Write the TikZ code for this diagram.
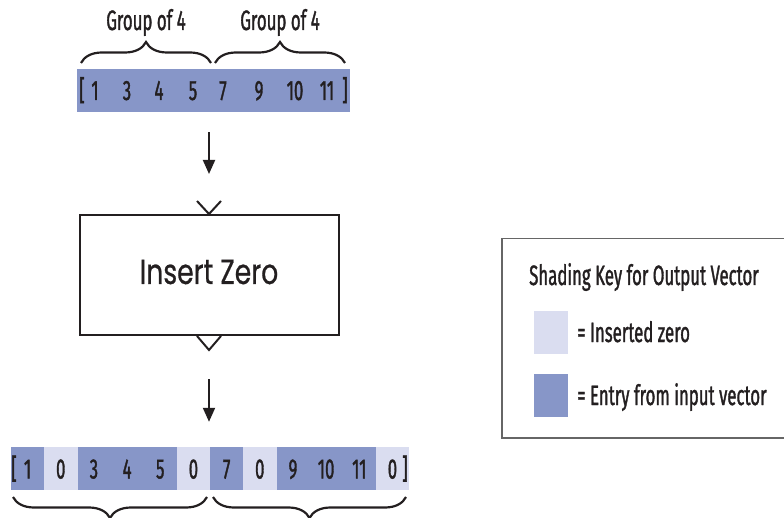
\documentclass[tikz,border=0pt]{standalone}
\usepackage{fontspec}
\setmainfont{Fira Sans}
\newfontfamily\condf[FakeStretch=0.6,FakeBold=1.2]{Fira Sans}
\newfontfamily\geof[FakeStretch=0.76,FakeBold=0.6]{Poppins}
\usetikzlibrary{decorations.pathreplacing,arrows.meta}
\definecolor{darkcell}{HTML}{8796C8}
\definecolor{lightcell}{HTML}{DADDF0}
\definecolor{ink}{HTML}{231F20}
\definecolor{keyline}{HTML}{666666}
\begin{document}
\begin{tikzpicture}[x=1pt,y=-1pt,
  lbl/.style={font=\condf\fontsize{28}{30}\selectfont, text=ink, inner sep=0pt, anchor=base},
  lblw/.style={lbl, anchor=base west},
  cell/.style={minimum width=33.17pt, minimum height=43pt, inner sep=0pt, draw=none, anchor=north west},
  dk/.style={cell, fill=darkcell},
  lt/.style={cell, fill=lightcell},
  bracestyle/.style={draw=ink, line width=2.2pt, decorate, decoration={brace, amplitude=21pt}},
  flow/.style={draw=ink, line width=2pt, -{Triangle[length=14pt,width=12pt]}},
  port/.style={draw=ink, line width=2pt},
]
\useasboundingbox (0,0) rectangle (784,518);

% input vector
\node[fill=darkcell, minimum width=273pt, minimum height=43pt, inner sep=0pt] (inbar) at (213.5,90.5) {};
\node[lbl] (ib) at (82,100) {[};
\node[lbl] (i1) at (95,100) {1};
\node[lbl] (i3) at (127,100) {3};
\node[lbl] (i4) at (159,100) {4};
\node[lbl] (i5) at (193,100) {5};
\node[lbl] (i7) at (223,100) {7};
\node[lbl] (i9) at (259,100) {9};
\node[lbl] (i10) at (295,100) {10};
\node[lbl] (i11) at (327,100) {11};
\node[lbl] (ie) at (345,100) {]};

% top braces
\coordinate (tb1s) at (81,63);
\coordinate (tb1e) at (211,63);
\coordinate (tb2s) at (215,63);
\coordinate (tb2e) at (345,63);
\draw[bracestyle] (tb1s) -- (tb1e);
\draw[bracestyle] (tb2s) -- (tb2e);
\node[lbl] (g1) at (146,30) {Group of 4};
\node[lbl] (g2) at (280,30) {Group of 4};

% block
\node[draw=ink, line width=2pt, minimum width=259pt, minimum height=120pt, inner sep=0pt] (box) at (209,275) {};
\node[font=\geof\fontsize{35}{38}\selectfont, text=ink, inner sep=0pt, anchor=base] (boxtxt) at (209,284) {Insert Zero};
\draw[port] ([xshift=-12pt,yshift=13pt]box.north) -- (box.north) -- ([xshift=12pt,yshift=13pt]box.north);
\draw[port] ([xshift=-12pt]box.south) -- ([yshift=-14pt]box.south) -- ([xshift=12pt]box.south);

% output vector
\node[minimum width=398pt, minimum height=43pt, inner sep=0pt] (outbar) at (210,468.5) {};
\foreach \i/\s in {0/dk,1/lt,2/dk,3/dk,4/dk,5/lt,6/dk,7/lt,8/dk,9/dk,10/dk,11/lt}{
  \node[\s] (c\i) at ({11+33.17*\i},447) {};
}
\foreach \i/\t in {0/1,1/0,2/3,3/4,4/5,5/0,6/7,7/0,8/9,9/10,10/11,11/0}{
  \node[lbl] (o\i) at ({11+33.17*(\i+0.5)},478.5) {\t};
}
\node[lbl] (ob) at (14,478.5) {[};
\node[lbl] (oe) at (405,478.5) {]};

% bottom braces
\coordinate (bb1s) at (207,497);
\coordinate (bb1e) at (13,497);
\coordinate (bb2s) at (406,497);
\coordinate (bb2e) at (213,497);
\draw[bracestyle] (bb1s) -- (bb1e);
\draw[bracestyle] (bb2s) -- (bb2e);

% arrows
\draw[flow, shorten <=20pt, shorten >=40pt] (inbar.south -| box.north) -- (box.north);
\draw[flow, shorten <=43pt, shorten >=25pt] (box.south) -- (box.south |- outbar.north);

% shading key
\node[draw=keyline, line width=1.5pt, minimum width=290pt, minimum height=199pt, inner sep=0pt, anchor=north west] (key) at (501,238) {};
\node[lblw] (keytitle) at (529,285) {Shading Key for Output Vector};
\node[lt, minimum width=34pt] (swl) at (534,311) {};
\node[dk, minimum width=34pt] (swd) at (534,374) {};
\node[lblw] (kl) at (577,342) {= Inserted zero};
\node[lblw] (kd) at (577,405) {= Entry from input vector};
\end{tikzpicture}
\end{document}
